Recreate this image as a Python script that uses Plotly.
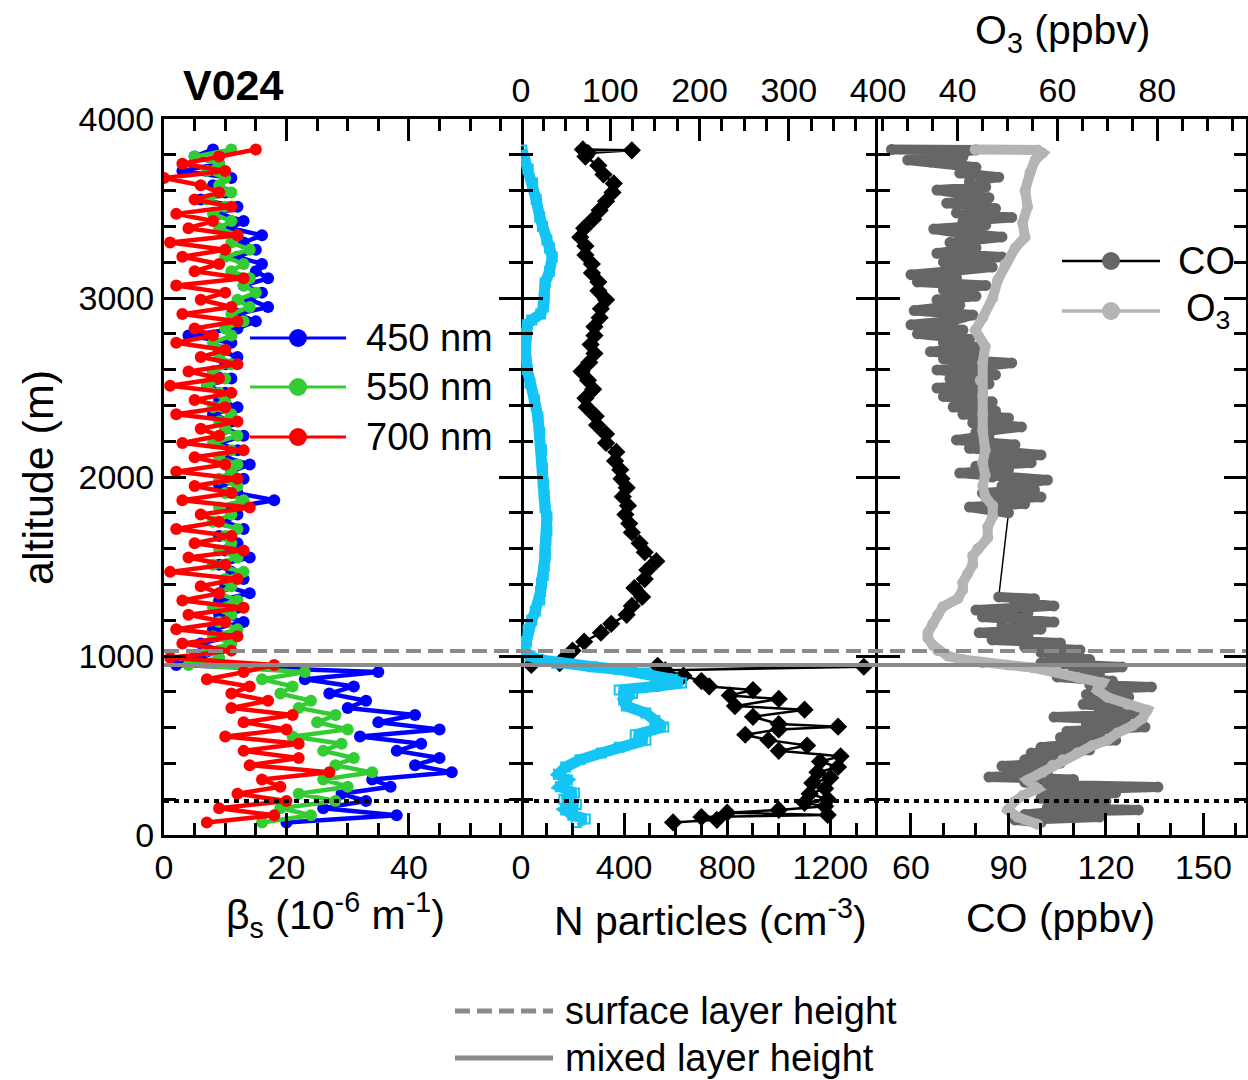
import plotly.graph_objects as go

# ---------------- data ----------------
# Scattering coefficient profiles (10^-6 m^-1) at three wavelengths
alt_beta = [70, 110, 150, 190, 230, 270, 310, 350, 390, 430,
            470, 510, 550, 590, 630, 670, 710, 750, 790, 830,
            870, 910, 950, 990, 1030, 1070, 1110, 1150, 1190, 1230,
            1270, 1310, 1350, 1390, 1430, 1470, 1510, 1550, 1590, 1630,
            1670, 1710, 1750, 1790, 1830, 1870, 1910, 1950, 1990, 2030,
            2070, 2110, 2150, 2190, 2230, 2270, 2310, 2350, 2390, 2430,
            2470, 2510, 2550, 2590, 2630, 2670, 2710, 2750, 2790, 2830,
            2870, 2910, 2950, 2990, 3030, 3070, 3110, 3150, 3190, 3230,
            3270, 3310, 3350, 3390, 3430, 3470, 3510, 3550, 3590, 3630,
            3670, 3710, 3750, 3790, 3830]
beta_450 = [20, 38, 26, 33, 29, 37, 34, 47, 41, 45,
            38, 42, 32, 45, 35, 41, 30, 33, 27, 31,
            23, 35, 2, 6, 9, 6, 11, 8, 13, 9,
            12, 9, 14, 10, 13, 11, 9, 14, 10, 12,
            9, 13, 10, 12, 11, 18, 12, 9, 13, 11,
            14, 10, 12, 9, 13, 10, 11, 8, 12, 9,
            10, 7, 11, 8, 10, 12, 9, 11, 4, 12,
            15, 12, 17, 14, 16, 13, 17, 15, 16, 12,
            15, 13, 16, 11, 13, 9, 12, 6, 10, 8,
            11, 3, 9, 5, 8]
beta_550 = [16, 24, 19, 28, 22, 30, 26, 34, 28, 31,
            26, 29, 21, 30, 25, 28, 22, 24, 19, 21,
            16, 23, 4, 9, 7, 11, 8, 12, 9, 11,
            8, 12, 9, 11, 10, 13, 8, 12, 9, 11,
            10, 12, 8, 11, 9, 13, 10, 12, 9, 11,
            12, 9, 11, 8, 12, 10, 9, 11, 8, 10,
            9, 7, 10, 8, 11, 9, 10, 8, 11, 10,
            13, 11, 14, 12, 15, 13, 14, 11, 13, 10,
            14, 11, 12, 9, 11, 8, 10, 7, 11, 9,
            10, 7, 9, 5, 11]
beta_700 = [7, 18, 9, 20, 12, 19, 16, 27, 14, 22,
            13, 22, 10, 20, 13, 21, 11, 17, 11, 14,
            7, 13, 18, 1, 11, 3, 12, 2, 10, 4,
            13, 3, 9, 6, 12, 1, 10, 4, 13, 5,
            11, 2, 9, 6, 14, 3, 11, 5, 12, 2,
            10, 5, 13, 3, 9, 6, 12, 2, 10, 5,
            11, 1, 9, 4, 12, 6, 10, 2, 8, 5,
            12, 3, 11, 6, 10, 2, 13, 5, 9, 3,
            10, 1, 12, 4, 8, 2, 11, 5, 9, 6,
            0, 10, 3, 9, 15]

# Total particle number concentration (cm^-3, bottom axis)
alt_n = [70, 85, 100, 112, 125, 140, 160, 180, 200, 230,
         260, 290, 320, 350, 380, 410, 440, 470, 500, 530,
         560, 590, 605, 620, 660, 700, 720, 760, 780, 810,
         830, 860, 890, 920, 940, 945, 950, 960, 990, 1030,
         1080, 1130, 1180, 1230, 1280, 1330, 1380, 1430, 1480, 1530,
         1580, 1630, 1690, 1740, 1790, 1840, 1890, 1940, 1990, 2040,
         2090, 2140, 2190, 2240, 2290, 2340, 2390, 2440, 2490, 2540,
         2590, 2640, 2690, 2740, 2790, 2840, 2890, 2940, 2990, 3040,
         3090, 3140, 3190, 3240, 3290, 3340, 3390, 3440, 3490, 3540,
         3590, 3640, 3690, 3740, 3790, 3810, 3825, 3830]
n_total = [590, 760, 700, 1190, 800, 1000, 1180, 1100, 1190, 1120,
           1180, 1130, 1200, 1150, 1230, 1160, 1240, 1000, 1110, 960,
           870, 1000, 1230, 1000, 900, 1100, 830, 1000, 810, 900,
           730, 700, 630, 560, 1330, 530, 40, 150, 170, 200,
           245, 310, 350, 410, 430, 470, 440, 480, 490, 525,
           480, 460, 430, 420, 405, 415, 395, 410, 390, 385,
           365, 370, 330, 330, 295, 290, 255, 250, 280, 260,
           235, 265, 285, 270, 285, 285, 305, 310, 330, 300,
           300, 275, 275, 250, 250, 230, 245, 280, 305, 330,
           355, 360, 320, 300, 250, 260, 430, 240]

# Coarse particle concentration (cm^-3, top axis)
alt_coarse = [70, 90, 110, 140, 170, 200, 235, 270, 307, 340,
              380, 420, 458, 490, 530, 560, 603, 640, 681, 720,
              754, 790, 810, 830, 849, 870, 905, 925, 940, 960,
              980, 1000, 1034, 1080, 1145, 1200, 1250, 1313, 1360, 1408,
              1450, 1500, 1550, 1592, 1650, 1700, 1777, 1830, 1900, 1966,
              2050, 2151, 2250, 2335, 2430, 2525, 2600, 2709, 2800, 2850,
              2877, 2910, 2950, 3000, 3084, 3150, 3229, 3280, 3324, 3400,
              3453, 3550, 3642, 3720, 3780, 3827]
n_coarse = [62, 72, 58, 50, 62, 48, 60, 44, 52, 42,
            50, 66, 90, 110, 140, 128, 160, 150, 140, 118,
            115, 125, 110, 150, 180, 170, 140, 110, 80, 40,
            20, 10, 4, 6, 8, 12, 16, 21, 22, 23,
            25, 26, 27, 27, 28, 29, 29, 27, 26, 25,
            24, 23, 21, 19, 15, 10, 7, 5, 6, 7,
            12, 22, 25, 26, 27, 32, 35, 32, 29, 24,
            21, 17, 13, 8, 4, 1]

# Carbon monoxide (ppbv, bottom axis)
alt_co = [70, 84, 100, 115, 130, 140, 155, 170, 179, 190,
          205, 220, 235, 250, 268, 280, 295, 310, 324, 340,
          355, 370, 385, 402, 420, 440, 458, 475, 490, 510,
          530, 545, 560, 580, 603, 620, 640, 659, 675, 690,
          710, 730, 750, 771, 785, 800, 815, 827, 840, 860,
          883, 900, 920, 939, 950, 961, 980, 1000, 1020, 1034,
          1050, 1073, 1090, 1110, 1130, 1150, 1170, 1190, 1218, 1240,
          1257, 1280, 1300, 1320, 1330, 1799, 1832, 1850, 1870, 1888,
          1910, 1930, 1950, 1983, 2000, 2022, 2040, 2060, 2080, 2100,
          2123, 2140, 2160, 2180, 2207, 2230, 2250, 2280, 2302, 2330,
          2350, 2370, 2391, 2420, 2450, 2470, 2497, 2520, 2550, 2570,
          2598, 2615, 2637, 2660, 2680, 2700, 2726, 2750, 2770, 2800,
          2821, 2850, 2870, 2905, 2930, 2960, 2990, 3010, 3045, 3070,
          3090, 3112, 3130, 3150, 3173, 3200, 3229, 3250, 3280, 3310,
          3341, 3360, 3385, 3407, 3430, 3450, 3475, 3500, 3530, 3560,
          3580, 3603, 3620, 3650, 3675, 3698, 3730, 3760, 3771, 3790,
          3810, 3827, 3830]
co = [100, 92, 118, 95, 105, 130, 102, 115, 104, 120,
      100, 110, 123, 100, 136, 103, 95, 110, 84, 102,
      90, 100, 88, 106, 95, 108, 97, 115, 100, 112,
      123, 106, 118, 108, 132, 114, 126, 104, 130, 118,
      125, 113, 120, 127, 114, 122, 118, 134, 115, 122,
      105, 118, 110, 125, 112, 100, 115, 105, 100, 112,
      95, 106, 85, 96, 81, 100, 88, 104, 82, 96,
      80, 104, 92, 98, 87, 90, 78, 95, 84, 100,
      82, 98, 88, 102, 85, 75, 90, 80, 97, 84,
      100, 85, 78, 92, 74, 84, 80, 94, 79, 90,
      76, 86, 73, 85, 70, 82, 68, 84, 72, 86,
      68, 80, 91, 70, 82, 66, 80, 70, 78, 62,
      76, 60, 72, 79, 61, 75, 68, 80, 70, 83,
      62, 74, 60, 72, 85, 70, 88, 68, 80, 72,
      88, 76, 67, 83, 76, 91, 74, 86, 71, 84,
      76, 68, 83, 78, 87, 75, 80, 66, 59, 76,
      72, 80, 54]

# Ozone (ppbv, top axis)
alt_o3 = [60, 100, 140, 180, 220, 260, 307, 350, 390, 420,
          460, 500, 530, 570, 610, 650, 698, 730, 770, 810,
          850, 880, 910, 935, 950, 962, 980, 1000, 1030, 1060,
          1100, 1130, 1180, 1230, 1275, 1320, 1370, 1410, 1460, 1510,
          1560, 1600, 1660, 1720, 1780, 1840, 1890, 1950, 2010, 2080,
          2150, 2260, 2350, 2450, 2540, 2640, 2730, 2820, 2890, 3000,
          3100, 3190, 3280, 3340, 3420, 3510, 3600, 3700, 3770, 3810,
          3827, 3830]
o3 = [56, 52, 50, 51, 53, 56, 54, 57, 59, 61,
      64, 67, 70, 72, 75, 77, 78, 74, 70, 68,
      69, 64, 60, 55, 50, 45, 41, 38, 36, 35,
      34, 34, 35, 36, 37, 40, 41, 41, 42, 43,
      43, 44, 46, 46, 47, 47, 45.5, 45, 45.5, 45,
      45.5, 45, 45, 45, 44.5, 45, 45.5, 43.5, 45, 47,
      48, 49.5, 51.5, 53.5, 53, 54, 53.5, 54.5, 55.5, 57,
      56, 43.5]

# Boundary-layer heights (m)
surface_layer_height = 1028
mixed_layer_height = 950
inversion_height = 190

wavelength_labels = ["450 nm", "550 nm", "700 nm"]
wavelength_colors = ["#0000ff", "#33cc33", "#ff0000"]

# ---------------- layout geometry ----------------
W, H = 1248, 1080
FONT = "Arial, Liberation Sans, sans-serif"


def px(x):
    return x / W


def py(y):
    return 1 - y / H


P1 = [px(164), px(521)]
P2 = [px(521), px(878)]
P3 = [px(878), px(1246)]
YD = [py(835), py(119)]

fig = go.Figure()

# panel 1: scattering coefficients
for vals, color, name in zip([beta_450, beta_550, beta_700], wavelength_colors, wavelength_labels):
    fig.add_trace(go.Scatter(
        x=vals, y=alt_beta, mode="lines+markers", name=name,
        line=dict(color=color, width=4.5),
        marker=dict(color=color, size=12),
        xaxis="x", yaxis="y", showlegend=False))

# panel 2: particle concentrations
fig.add_trace(go.Scatter(
    x=n_total, y=alt_n, mode="lines+markers", name="N total",
    line=dict(color="black", width=2.5),
    marker=dict(color="black", size=14, symbol="diamond"),
    xaxis="x2", yaxis="y2", showlegend=False))
fig.add_trace(go.Scatter(
    x=n_coarse, y=alt_coarse, mode="lines+markers", name="N coarse",
    line=dict(color="#14c4f4", width=11),
    marker=dict(color="#14c4f4", size=9, symbol="square-open", line=dict(width=2)),
    xaxis="x4", yaxis="y2", showlegend=False))

# panel 3: CO and O3
fig.add_trace(go.Scatter(
    x=co, y=alt_co, mode="lines+markers", name="CO",
    line=dict(color="black", width=1.5),
    marker=dict(color="#666666", size=11),
    xaxis="x3", yaxis="y3", showlegend=False))

# thick band joining successive CO samples, broken across the sampling gap
band_alt, band_co = [], []
for i, (a, c) in enumerate(zip(alt_co, co)):
    if i and a - alt_co[i - 1] > 300:
        band_alt.append(None)
        band_co.append(None)
    band_alt.append(a)
    band_co.append(c)
fig.add_trace(go.Scatter(
    x=band_co, y=band_alt, mode="lines", name="CO band",
    line=dict(color="#666666", width=10),
    xaxis="x3", yaxis="y3", showlegend=False, connectgaps=False))

fig.add_trace(go.Scatter(
    x=o3, y=alt_o3, mode="lines+markers", name="O3",
    line=dict(color="#b4b4b4", width=10),
    marker=dict(color="#b4b4b4", size=11),
    xaxis="x5", yaxis="y3", showlegend=False))

# ---------------- axes ----------------
tickfont = dict(family=FONT, size=34, color="black")


def xax(domain, rng, dtick, minor, anchor, side="bottom", mirror=False, tick0=0, labels=True):
    return dict(domain=domain, range=rng, anchor=anchor, side=side, automargin=False,
                showline=True, linewidth=3, linecolor="black", mirror=mirror,
                ticks="inside", ticklen=22, tickwidth=3, tickcolor="black",
                dtick=dtick, tick0=tick0, showticklabels=labels,
                minor=dict(ticks="inside", ticklen=12, tickwidth=3, tickcolor="black", dtick=minor),
                showgrid=False, zeroline=False, tickfont=tickfont, fixedrange=True)


def yax(anchor, labels, line=True):
    return dict(domain=YD, range=[0, 4000], anchor=anchor, automargin=False,
                showline=line, linewidth=3, linecolor="black", mirror="ticks",
                ticks="inside", ticklen=22, tickwidth=3, tickcolor="black",
                dtick=1000, tick0=0, showticklabels=labels,
                minor=dict(ticks="inside", ticklen=12, tickwidth=3, tickcolor="black", dtick=200),
                showgrid=False, zeroline=False, tickfont=tickfont, fixedrange=True)


layout_axes = dict(
    xaxis=xax(P1, [0, 58.3], 20, 5, "y", mirror="ticks"),
    yaxis=yax("x", True),
    xaxis2=xax(P2, [0, 1385], 400, 100, "y2"),
    yaxis2=yax("x2", False, line=False),
    xaxis4=dict(xax(P2, [0, 400], 100, 25, "y2", side="top"), overlaying="x2"),
    xaxis3=xax(P3, [49.85, 163.1], 30, 10, "y3", tick0=0),
    yaxis3=yax("x3", False),
    xaxis5=dict(xax(P3, [24, 97.8], 20, 5, "y3", side="top", tick0=0), overlaying="x3"),
)

# ---------------- boundary-layer reference lines ----------------
shapes = []
for h, dash, color in [(surface_layer_height, "15px,7px", "#8a8a8a"),
                       (mixed_layer_height, "solid", "#8a8a8a"),
                       (inversion_height, "5px,5px", "black")]:
    shapes.append(dict(type="line", xref="paper", yref="y", x0=P1[0], x1=P3[1],
                       y0=h, y1=h, line=dict(color=color, width=4, dash=dash), layer="above"))


# ---------------- legend glyphs ----------------
def legend_glyph(x0, x1, y, color, width, marker_color=None, dash="solid"):
    shapes.append(dict(type="line", xref="paper", yref="paper",
                       x0=px(x0), x1=px(x1), y0=py(y), y1=py(y),
                       line=dict(color=color, width=width, dash=dash)))
    if marker_color:
        xc = (x0 + x1) / 2
        r = 9
        shapes.append(dict(type="circle", xref="paper", yref="paper",
                           x0=px(xc - r), x1=px(xc + r), y0=py(y + r), y1=py(y - r),
                           fillcolor=marker_color, line=dict(color=marker_color, width=0)))


for color, y in zip(wavelength_colors, [338, 387, 437]):
    legend_glyph(250, 346, y, color, 3, color)
legend_glyph(1062, 1160, 261, "black", 2.5, "#666666")
legend_glyph(1062, 1160, 311, "#b4b4b4", 3.5, "#b4b4b4")
legend_glyph(455, 553, 1011, "#8a8a8a", 5, None, dash="15px,7px")
legend_glyph(455, 553, 1058, "#8a8a8a", 5)


# ---------------- text ----------------
def note(text, x, y, size, xanchor="center", bold=False, angle=0):
    return dict(text=f"<b>{text}</b>" if bold else text, x=px(x), y=py(y),
                xref="paper", yref="paper", xanchor=xanchor, yanchor="middle",
                showarrow=False, textangle=angle,
                font=dict(family=FONT, size=size, color="black"))


annotations = [
    note("V024", 233, 85, 43, bold=True),
    note("O<sub>3</sub> (ppbv)", 1062, 33, 41),
    note("altitude (m)", 38, 478, 43, angle=-90),
    note("β<sub>s</sub> (10<sup>-6</sup> m<sup>-1</sup>)", 335, 915, 41),
    note("N particles (cm<sup>-3</sup>)", 710, 918, 41),
    note("CO (ppbv)", 1060, 918, 41),
    note("surface layer height", 563, 1011, 38, xanchor="left"),
    note("mixed layer height", 563, 1058, 38, xanchor="left"),
    note("CO", 1176, 261, 38, xanchor="left"),
    note("O<sub>3</sub>", 1184, 311, 38, xanchor="left"),
]
for label, y in zip(wavelength_labels, [338, 387, 437]):
    annotations.append(note(label, 364, y, 38, xanchor="left"))

fig.update_layout(
    width=W, height=H, margin=dict(l=0, r=0, t=0, b=0, autoexpand=False),
    paper_bgcolor="white", plot_bgcolor="white",
    font=dict(family=FONT, color="black"),
    showlegend=False, shapes=shapes, annotations=annotations,
    **layout_axes)

fig.write_html("out.html", config={"displayModeBar": False})
